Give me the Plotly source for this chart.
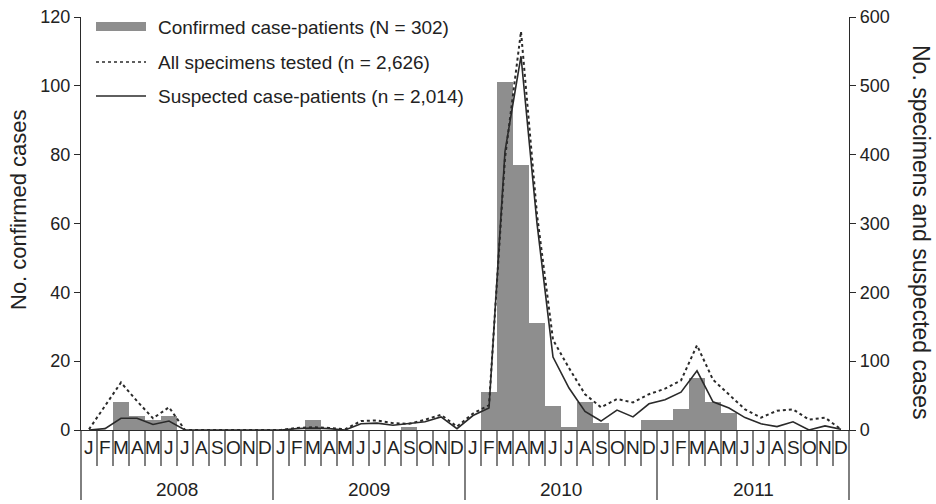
import plotly.graph_objects as go

month_letters = ["J", "F", "M", "A", "M", "J", "J", "A", "S", "O", "N", "D"]
years = ["2008", "2009", "2010", "2011"]

# Confirmed case-patients per month (left axis)
confirmed = [0, 0, 8, 4, 3, 4, 0, 0, 0, 0, 0, 0,
             0, 0, 3, 0, 0, 0, 0, 0, 1, 0, 0, 0,
             0, 11, 101, 77, 31, 7, 1, 8, 2, 0, 0, 3,
             3, 6, 15, 8, 5, 0, 0, 0, 0, 0, 0, 0]
# All specimens tested per month (right axis)
specimens = [1, 35, 69, 42, 17, 33, 0, 0, 0, 0, 0, 0,
             0, 3, 4, 3, 1, 13, 14, 10, 9, 15, 22, 5,
             24, 36, 395, 579, 313, 131, 90, 52, 33, 45, 40, 52,
             60, 72, 123, 73, 52, 30, 18, 28, 30, 15, 18, 1]
# Suspected case-patients per month (right axis)
suspected = [0, 2, 17, 17, 8, 13, 0, 0, 0, 0, 0, 0,
             0, 2, 3, 2, 0, 9, 10, 7, 9, 12, 19, 2,
             21, 32, 405, 543, 300, 106, 61, 27, 13, 29, 19, 38,
             44, 55, 86, 41, 32, 18, 9, 5, 12, 0, 6, 1]

legend_labels = ["Confirmed case-patients (N = 302)",
                 "All specimens tested (n = 2,626)",
                 "Suspected case-patients (n = 2,014)"]

n = len(confirmed)
xs = list(range(n))
FONT = "Liberation Sans, Arial, sans-serif"
TXT = "#222222"
BAR = "#8e8e8e"
LINE = "#2a2a2a"

# plot area in pixels
L, R, T, B = 81, 87, 17, 74
W, H = 936, 504
PW, PH = W - L - R, H - T - B


def px(xp):
    return (xp - L) / PW


def py(yp):
    return (H - B - yp) / PH


fig = go.Figure()
fig.add_trace(go.Bar(x=xs, y=confirmed, width=1, marker=dict(color=BAR, line=dict(width=0)),
                     showlegend=False, yaxis="y"))
fig.add_trace(go.Scatter(x=xs, y=specimens, mode="lines", line=dict(color=LINE, width=2, dash="dot"),
                         showlegend=False, yaxis="y2"))
fig.add_trace(go.Scatter(x=xs, y=suspected, mode="lines", line=dict(color=LINE, width=1.6),
                         showlegend=False, yaxis="y2"))

shapes = []
annotations = []

# separators below the x axis
for i in range(n + 1):
    is_year = (i % 12 == 0)
    y_end = 500 if is_year else 466
    shapes.append(dict(type="line", xref="paper", yref="paper",
                       x0=i / n, x1=i / n, y0=0, y1=py(y_end),
                       line=dict(color=LINE, width=1.2)))

# month letters
for i in range(n):
    annotations.append(dict(x=i, y=py(447), xref="x", yref="paper", text=month_letters[i % 12],
                            showarrow=False, font=dict(family=FONT, size=19, color=TXT),
                            xanchor="center", yanchor="middle"))
# year labels
for k, yr in enumerate(years):
    annotations.append(dict(x=12 * k + 5.5, y=py(489), xref="x", yref="paper", text=yr,
                            showarrow=False, font=dict(family=FONT, size=19, color=TXT),
                            xanchor="center", yanchor="middle"))

# manual legend
leg_y = [27, 62, 96]
shapes.append(dict(type="rect", xref="paper", yref="paper", x0=px(96), x1=px(146),
                   y0=py(22), y1=py(31), fillcolor=BAR, line=dict(width=0)))
shapes.append(dict(type="line", xref="paper", yref="paper", x0=px(96), x1=px(146),
                   y0=py(leg_y[1]), y1=py(leg_y[1]), line=dict(color=LINE, width=1.3, dash="dot")))
shapes.append(dict(type="line", xref="paper", yref="paper", x0=px(96), x1=px(146),
                   y0=py(leg_y[2]), y1=py(leg_y[2]), line=dict(color=LINE, width=1.5)))
for lbl, yy in zip(legend_labels, leg_y):
    annotations.append(dict(x=px(156), y=py(yy), xref="paper", yref="paper", text=lbl,
                            showarrow=False, font=dict(family=FONT, size=19, color=TXT),
                            xanchor="left", yanchor="middle"))

# axis titles
annotations.append(dict(x=px(18), y=py(210), xref="paper", yref="paper", text="No. confirmed cases",
                        textangle=-90, showarrow=False, font=dict(family=FONT, size=22, color=TXT),
                        xanchor="center", yanchor="middle"))
annotations.append(dict(x=px(921), y=py(232), xref="paper", yref="paper",
                        text="No. specimens and suspected cases",
                        textangle=90, showarrow=False, font=dict(family=FONT, size=23, color=TXT),
                        xanchor="center", yanchor="middle"))

fig.update_layout(
    width=W, height=H,
    margin=dict(l=L, r=R, t=T, b=B, autoexpand=False),
    paper_bgcolor="white", plot_bgcolor="white",
    bargap=0,
    font=dict(family=FONT, size=18, color=TXT),
    xaxis=dict(range=[-0.5, n - 0.5], showticklabels=False, ticks="", showgrid=False,
               zeroline=False, showline=True, linecolor=LINE, linewidth=1.3, fixedrange=True,
               automargin=False),
    yaxis=dict(range=[0, 120], dtick=20, tick0=0, ticks="outside", ticklen=6, tickcolor=LINE,
               tickwidth=1.2, showline=True, linecolor=LINE, linewidth=1.3, showgrid=False,
               zeroline=False, tickfont=dict(family=FONT, size=18, color=TXT), automargin=False),
    yaxis2=dict(range=[0, 600], dtick=100, tick0=0, overlaying="y", side="right",
                ticks="outside", ticklen=6, tickcolor=LINE, tickwidth=1.2, showline=True,
                linecolor=LINE, linewidth=1.3, showgrid=False, zeroline=False,
                tickfont=dict(family=FONT, size=18, color=TXT), automargin=False),
    shapes=shapes,
    annotations=annotations,
    showlegend=False,
)

fig.write_html("out.html",
               config={"displayModeBar": False},
               post_script="document.body.style.margin='0';document.body.style.overflow='hidden';")
